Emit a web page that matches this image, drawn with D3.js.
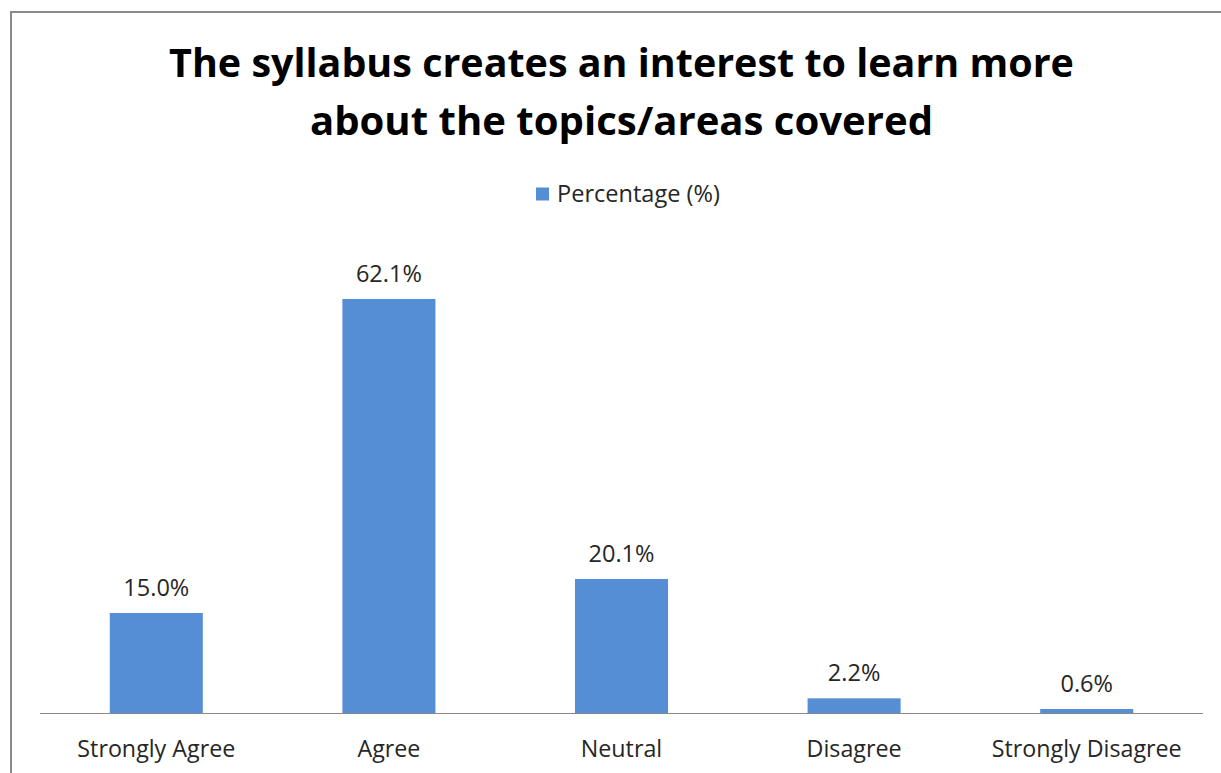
<!DOCTYPE html>
<html>
<head>
<meta charset="utf-8">
<script src="https://cdn.jsdelivr.net/npm/d3@7"></script>
<style>
  html, body { margin: 0; padding: 0; background: #fff; }
  svg { display: block; }
</style>
</head>
<body>
<svg id="chart" width="1221" height="773"></svg>
<script>
// Survey responses
const categories = ["Strongly Agree", "Agree", "Neutral", "Disagree", "Strongly Disagree"];
const percentages = [15.0, 62.1, 20.1, 2.2, 0.6];
const seriesName = "Percentage (%)";
const titleLines = ["The syllabus creates an interest to learn more", "about the topics/areas covered"];

const W = 1221, H = 773;
const FONT = "'Open Sans', 'Noto Sans', sans-serif";
const BAR = "#558ED5";
const TEXT = "#262626";

const svg = d3.select("#chart");

// Outer chart frame (only top/left edges fall inside the viewport)
svg.append("rect")
  .attr("x", 11).attr("y", 12)
  .attr("width", W + 20).attr("height", H + 20)
  .attr("fill", "#fff").attr("stroke", "#898989").attr("stroke-width", 2);

const plot = { left: 40, right: 1203, top: 246.3, bottom: 713 };

const x = d3.scaleBand()
  .domain(categories)
  .range([plot.left, plot.right])
  .paddingInner(0.6)
  .paddingOuter(0.3);

const y = d3.scaleLinear()
  .domain([0, 70])
  .range([plot.bottom, plot.top]);

// Font size at which `str` spans `width` px
function sizeFor(str, width, weight) {
  const probe = svg.append("text")
    .attr("font-family", FONT).attr("font-weight", weight || 400)
    .attr("font-size", 20).text(str);
  const w = probe.node().getComputedTextLength();
  probe.remove();
  return +(20 * width / w).toFixed(2);
}

// Title
const cx = 621.5;
const titleWidths = [905, 623];
const titleBase = [77, 135];
titleLines.forEach((t, i) => {
  svg.append("text")
    .attr("x", cx).attr("y", titleBase[i])
    .attr("text-anchor", "middle")
    .attr("font-family", FONT).attr("font-weight", 700)
    .attr("font-size", sizeFor(t, titleWidths[i], 700)).attr("fill", "#000")
    .text(t);
});

// Legend
const legend = svg.append("g");
legend.append("rect")
  .attr("x", 536).attr("y", 187.5).attr("width", 13).attr("height", 13)
  .attr("fill", BAR);
legend.append("text")
  .attr("x", 557).attr("y", 202)
  .attr("font-family", FONT).attr("font-size", sizeFor(seriesName, 163)).attr("fill", TEXT)
  .text(seriesName);

// Bars
const data = categories.map((c, i) => ({ c, v: percentages[i] }));
svg.append("g").selectAll("rect")
  .data(data).join("rect")
  .attr("x", d => x(d.c))
  .attr("y", d => y(d.v))
  .attr("width", x.bandwidth())
  .attr("height", d => y(0) - y(d.v))
  .attr("fill", BAR);

// Value labels above bars
const valueSize = sizeFor("62.1%", 66);
svg.append("g").selectAll("text")
  .data(data).join("text")
  .attr("x", d => x(d.c) + x.bandwidth() / 2)
  .attr("y", d => y(d.v) - 17)
  .attr("text-anchor", "middle")
  .attr("font-family", FONT).attr("font-size", valueSize).attr("fill", TEXT)
  .text(d => d.v.toFixed(1) + "%");

// Category axis
const labelSize = sizeFor("Strongly Agree", 158);
const xAxis = svg.append("g")
  .attr("transform", `translate(0,${plot.bottom})`)
  .call(d3.axisBottom(x).tickSize(0).tickPadding(0));
xAxis.select(".domain")
  .attr("stroke", "#898989").attr("stroke-width", 1)
  .attr("d", `M${plot.left},0.5H${plot.right}`);
xAxis.selectAll(".tick text")
  .attr("font-family", FONT).attr("font-size", labelSize).attr("fill", TEXT)
  .attr("dy", null).attr("y", 44);
</script>
</body>
</html>
